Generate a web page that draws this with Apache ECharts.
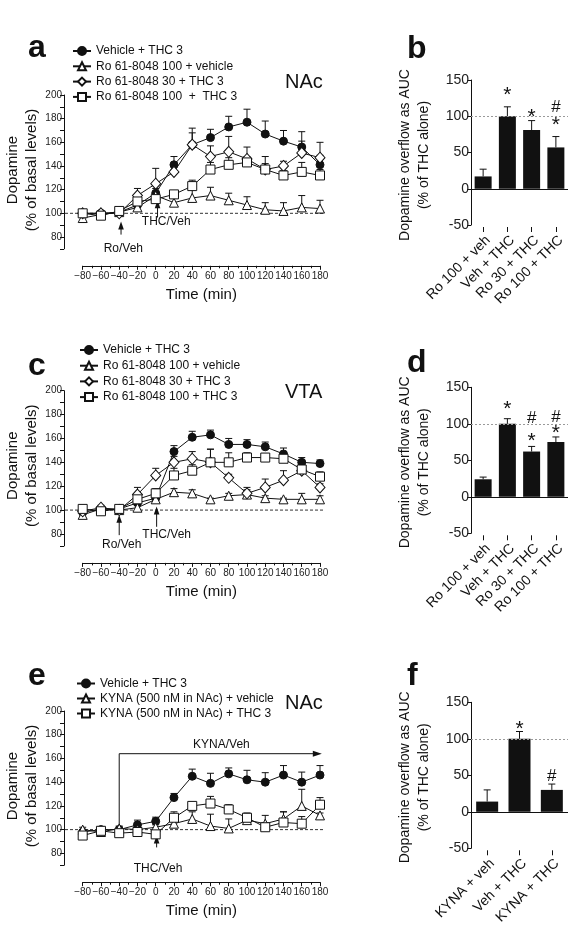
<!DOCTYPE html>
<html><head><meta charset="utf-8">
<script src="https://cdn.jsdelivr.net/npm/echarts@6/dist/echarts.min.js"></script>
<style>html,body{margin:0;padding:0;background:#fff}#c{width:579px;height:938px}</style>
</head><body><div id="c"></div>
<script>
// ---------------- DATA ----------------
const times = [-80,-60,-40,-20,0,20,40,60,80,100,120,140,160,180];

// Panel a (NAc)
const aNames = ['Vehicle + THC 3','Ro 61-8048 100 + vehicle','Ro 61-8048 30 + THC 3','Ro 61-8048 100  +  THC 3'];
const aVehTHC      = [100,100,101,107,117,141,158,164,173,177,167,161,156,141];
const aVehTHCErr   = [2,2,2,3,4,7,10,7,9,11,11,9,13,8];
const aRo100Veh    = [96,99,101,105,115,109,113,115,111,107,103,102,105,104];
const aRo100VehErr = [3,2,2,2,3,6,8,7,6,7,6,7,10,7];
const aRo30THC     = [100,100,100,115,125,135,158,148,152,146,137,140,151,147];
const aRo30THCErr  = [2,2,2,6,13,5,14,9,13,10,11,4,10,13];
const aRo100THC    = [100,98,102,110,112,116,123,137,141,143,137,132,135,132];
const aRo100THCErr = [2,2,2,4,4,3,5,6,6,5,5,4,8,5];

// Panel c (VTA)
const cNames = ['Vehicle + THC 3','Ro 61-8048 100 + vehicle','Ro 61-8048 30 + THC 3','Ro 61-8048 100 + THC 3'];
const cVehTHC      = [98,101,101,106,110,149,161,163,155,155,153,147,140,139];
const cVehTHCErr   = [2,2,2,3,2,5,5,4,5,4,4,5,4,3];
const cRo100Veh    = [96,101,100,102,109,115,114,109,112,113,110,109,109,109];
const cRo100VehErr = [2,2,2,2,2,3,3,1,2,4,2,1,5,3];
const cRo30THC     = [99,102,100,113,129,140,143,140,127,114,119,125,133,119];
const cRo30THCErr  = [2,2,2,6,6,5,6,11,3,5,7,8,4,3];
const cRo100THC    = [101,99,101,109,114,129,133,140,140,144,144,143,134,128];
const cRo100THCErr = [2,2,2,3,4,6,5,11,8,4,3,4,4,4];

// Panel e (NAc, KYNA)
const eNames = ['Vehicle + THC 3','KYNA (500 nM in NAc) + vehicle','KYNA (500 nM in NAc) + THC 3'];
const eVehTHC      = [98,100,100,104,107,127,145,139,147,142,140,146,140,146];
const eVehTHCErr   = [2,2,2,4,3.5,3.5,6,8.5,5,8,8,8,8.5,8];
const eKynaVeh     = [100,98,101,100,102,105,109,103,101,108,105,109,120,112];
const eKynaVehErr  = [2,2,2,2,2,2,6,10,8,5,7,6,14,2];
const eKynaTHC     = [95,99,97,98,96,110,120,122,117,110,102,106,105,121];
const eKynaTHCErr  = [2,2,2,2,2,5,3,6,4,4,4,9,6,6];

// Bar panels
const bCats = ['Ro 100 + veh','Veh + THC','Ro 30 + THC','Ro 100 + THC'];
const bVals = [17,100,81,57];
const bErrs = [10,13,13,15];
const dCats = ['Ro 100 + veh','Veh + THC','Ro 30 + THC','Ro 100 + THC'];
const dVals = [24,100,62,75];
const dErrs = [3,7,7,7];
const fCats = ['KYNA + veh','Veh + THC','KYNA + THC'];
const fVals = [14,100,30];
const fErrs = [16,10,8];

// significance marks: [category index, value level, symbol]
const bMarks = [[1,136,'*'],[2,106,'*'],[3,112,'#'],[3,95,'*']];
const dMarks = [[1,127,'*'],[2,107,'#'],[2,83,'*'],[3,109,'#'],[3,94.5,'*']];
const fMarks = [[1,120,'*'],[2,49,'#']];

// arrows (time, from value, to value) and their captions (time, value)
const aArrows = [[-38,82,93,'Ro/Veh',-35.5,70.5],[2,96.5,111,'THC/Veh',11.5,92.6]];
const cArrows = [[-40,79,96,'Ro/Veh',-37.3,70.7],[1,86,103,'THC/Veh',12,79.5]];
const eArrows = [[1,85,95,'THC/Veh',2.5,67.3]];
const eKynaBracket = [-40,103,164,182,'KYNA/Veh',72,172];

// ---------------- CHART ----------------
const FONT = '"Liberation Sans", Arial, Helvetica, sans-serif';
const INK = '#111';
const chart = echarts.init(document.getElementById('c'), null, {renderer:'canvas'});

const LG = {left:82.7, width:237.3, yOff:18.7, xOff:17};
const lineGrids = [{top:95,height:153.8},{top:390.7,height:155.2},{top:711,height:154.2}];
const barGrids  = [{top:80,height:145},{top:387.3,height:146},{top:702.3,height:146}];
const BG = {left:471, width:97};
const barCats = [bCats,dCats,fCats];

const grids=[], xAxes=[], yAxes=[], series=[];
// order: 0 a, 1 b, 2 c, 3 d, 4 e, 5 f
const layoutOrder = [['line',0],['bar',0],['line',1],['bar',1],['line',2],['bar',2]];
layoutOrder.forEach(([kind,k],gi)=>{
  if(kind==='line'){
    const g = lineGrids[k];
    grids.push({left:LG.left, width:LG.width, top:g.top, height:g.height, outerBoundsMode:'none', containLabel:false});
    xAxes.push({type:'value', gridIndex:gi, min:-80, max:180, interval:20, offset:LG.xOff,
      axisLine:{show:true,onZero:false,lineStyle:{color:INK,width:1}},
      axisTick:{show:true,length:4,lineStyle:{color:INK}},
      minorTick:{show:true,splitNumber:2,length:2.5,lineStyle:{color:INK}},
      splitLine:{show:false}, minorSplitLine:{show:false},
      axisLabel:{fontSize:10,color:'#222',fontFamily:FONT,margin:5,hideOverlap:false,showMinLabel:true,showMaxLabel:true,
        formatter:v=>v<0?'\u2212'+Math.abs(v):String(v)}});
    yAxes.push({type:'value', gridIndex:gi, min:70, max:200, interval:10, offset:LG.yOff,
      axisLine:{show:true,onZero:false,lineStyle:{color:INK,width:1}},
      axisTick:{show:true,length:4,lineStyle:{color:INK}},
      splitLine:{show:false},
      axisLabel:{fontSize:10,color:'#222',fontFamily:FONT,margin:2,showMinLabel:true,showMaxLabel:true,
        formatter:v=>(v%20===0&&v>=80)?String(v):''}});
  } else {
    const g = barGrids[k];
    grids.push({left:BG.left, width:BG.width, top:g.top, height:g.height, outerBoundsMode:'none', containLabel:false});
    xAxes.push({type:'category', gridIndex:gi, data:barCats[k], offset:2,
      axisLine:{show:false,onZero:false},
      axisTick:{show:true,alignWithLabel:true,interval:0,length:5,lineStyle:{color:INK}},
      axisLabel:{show:true,interval:0,formatter:()=>''}});
    yAxes.push({type:'value', gridIndex:gi, min:-50, max:150, interval:50,
      axisLine:{show:true,onZero:false,lineStyle:{color:INK,width:1}},
      axisTick:{show:true,length:4,lineStyle:{color:INK}},
      splitLine:{show:false},
      axisLabel:{fontSize:14,color:'#222',fontFamily:FONT,margin:2}});
  }
});

const SYM = {
  circle:{symbol:'circle',symbolSize:8,itemStyle:{color:INK,borderColor:INK,borderWidth:1}},
  triangle:{symbol:'triangle',symbolSize:9,itemStyle:{color:'#fff',borderColor:INK,borderWidth:1}},
  diamond:{symbol:'diamond',symbolSize:[10,11],itemStyle:{color:'#fff',borderColor:INK,borderWidth:1}},
  square:{symbol:'rect',symbolSize:9,itemStyle:{color:'#fff',borderColor:INK,borderWidth:1}}
};

function errSeries(ai, xs, ys, es, capW, z){
  return {type:'custom', xAxisIndex:ai, yAxisIndex:ai, z:z, silent:true, clip:false,
    data: xs.map((x,i)=>[x, ys[i], es[i]]),
    renderItem:(params, api)=>{
      const x=api.value(0), y=api.value(1), e=api.value(2);
      const p0=api.coord([x,y]), p1=api.coord([x,y+e]);
      return {type:'group', children:[
        {type:'line',shape:{x1:p0[0],y1:p0[1],x2:p1[0],y2:p1[1]},style:{stroke:INK,lineWidth:1}},
        {type:'line',shape:{x1:p1[0]-capW/2,y1:p1[1],x2:p1[0]+capW/2,y2:p1[1]},style:{stroke:INK,lineWidth:1}}
      ]};
    }};
}
function lineSeries(ai, name, vals, errs, sym){
  series.push(errSeries(ai, times, vals, errs, 7, 1));
  series.push(Object.assign({type:'line', name:name, xAxisIndex:ai, yAxisIndex:ai, z:2,
    data: times.map((t,i)=>[t, vals[i]]),
    lineStyle:{color:INK,width:1}, showAllSymbol:true, animation:false}, JSON.parse(JSON.stringify(SYM[sym]))));
}
lineSeries(0, aNames[0], aVehTHC, aVehTHCErr, 'circle');
lineSeries(0, aNames[1], aRo100Veh, aRo100VehErr, 'triangle');
lineSeries(0, aNames[2], aRo30THC, aRo30THCErr, 'diamond');
lineSeries(0, aNames[3], aRo100THC, aRo100THCErr, 'square');
lineSeries(2, cNames[0], cVehTHC, cVehTHCErr, 'circle');
lineSeries(2, cNames[1], cRo100Veh, cRo100VehErr, 'triangle');
lineSeries(2, cNames[2], cRo30THC, cRo30THCErr, 'diamond');
lineSeries(2, cNames[3], cRo100THC, cRo100THCErr, 'square');
lineSeries(4, eNames[0], eVehTHC, eVehTHCErr, 'circle');
lineSeries(4, eNames[1], eKynaVeh, eKynaVehErr, 'triangle');
lineSeries(4, eNames[2], eKynaTHC, eKynaTHCErr, 'square');

function barSeries(ai, vals, errs, bw){
  series.push({type:'bar', xAxisIndex:ai, yAxisIndex:ai, data:vals, barWidth:bw, z:2,
    itemStyle:{color:INK}, silent:true,
    markLine:{silent:true, symbol:'none', label:{show:false}, animation:false,
      data:[{yAxis:0, lineStyle:{type:'solid',color:INK,width:1}},
            {yAxis:100, lineStyle:{type:[2,2],color:'#9a9a9a',width:1}}]}});
  series.push(errSeries(ai, vals.map((v,i)=>i), vals, errs, 7, 3));
}
barSeries(1, bVals, bErrs, 17);
barSeries(3, dVals, dErrs, 17);
barSeries(5, fVals, fErrs, 22);

const legendBase = {orient:'vertical', itemWidth:18, itemHeight:10, padding:0, selectedMode:false,
  textStyle:{fontSize:12, lineHeight:15, color:INK, fontFamily:FONT}};
const legends = [
  Object.assign({left:72, top:43.5, itemGap:0.3, data:aNames}, legendBase),
  Object.assign({left:79, top:342.5, itemGap:0.7, data:cNames}, legendBase),
  Object.assign({left:76, top:676, itemGap:0, data:eNames}, legendBase)
];

chart.setOption({animation:false, backgroundColor:'#fff', grid:grids, xAxis:xAxes, yAxis:yAxes, legend:legends, series:series});

// ---------------- ANNOTATIONS ----------------
const P = (i,x,y)=>chart.convertToPixel({xAxisIndex:i, yAxisIndex:i},[x,y]);
const G = [];
function txt(x,y,s,size,opt){
  G.push(Object.assign({type:'text', x:x, y:y, silent:true, style:Object.assign({text:s, fontSize:size, fontFamily:FONT, fill:INK, align:'center', verticalAlign:'middle'}, (opt&&opt.style)||{})}, opt&&opt.rot?{rotation:opt.rot}:{}));
}
function upArrow(ai, t, v0, v1){
  const a=P(ai,t,v0), b=P(ai,t,v1);
  G.push({type:'line', silent:true, shape:{x1:a[0],y1:a[1],x2:b[0],y2:b[1]+6}, style:{stroke:INK,lineWidth:1}});
  G.push({type:'polygon', silent:true, shape:{points:[[b[0],b[1]],[b[0]-2.8,b[1]+8],[b[0]+2.8,b[1]+8]]}, style:{fill:INK}});
}
// line panels
[[0,aArrows],[2,cArrows],[4,eArrows]].forEach(([ai,arr],k)=>{
  const g = lineGrids[k];
  const yx = LG.left - LG.yOff;
  const p = P(ai, 185, 100);
  G.push({type:'line', silent:true, shape:{x1:yx+1,y1:p[1],x2:p[0],y2:p[1]}, style:{stroke:'#333',lineWidth:1,lineDash:[3,2]}});
  arr.forEach(r=>{ upArrow(ai,r[0],r[1],r[2]); const q=P(ai,r[4],r[5]); txt(q[0],q[1],r[3],12); });
  txt(LG.left+LG.width/2, g.top+g.height+LG.xOff+29, 'Time (min)', 15);
  txt(13, g.top+75, 'Dopamine', 15, {rot:Math.PI/2});
  txt(32, g.top+75, '(% of basal levels)', 15, {rot:Math.PI/2});
});
// KYNA bracket
(function(){
  const r=eKynaBracket;
  const a=P(4,r[0],r[1]), b=P(4,r[0],r[2]), c=P(4,r[3],r[2]);
  G.push({type:'polyline', silent:true, shape:{points:[a,b,[c[0]-7,c[1]]]}, style:{stroke:INK,lineWidth:1,fill:null}});
  G.push({type:'polygon', silent:true, shape:{points:[[c[0],c[1]],[c[0]-9,c[1]-3],[c[0]-9,c[1]+3]]}, style:{fill:INK}});
  const q=P(4,r[5],r[6]); txt(q[0],q[1],r[4],12);
})();
// region labels
txt(285,82,'NAc',20,{style:{align:'left'}});
txt(285,392,'VTA',20,{style:{align:'left'}});
txt(285,703,'NAc',20,{style:{align:'left'}});
// bar panels
[[1,bMarks,0],[3,dMarks,1],[5,fMarks,2]].forEach(([ai,marks,k])=>{
  const g=barGrids[k];
  marks.forEach(m=>{ const q=P(ai,m[0],m[1]); const star=m[2]==='*'; txt(q[0], q[1]+(star?5:0), m[2], star?21:17); });
  barCats[k].forEach((c,i)=>{
    const q=P(ai,i,-50);
    txt(q[0]+5, q[1]+13, c, 14, {rot:Math.PI/4, style:{align:'right'}});
  });
  txt(405, g.top+75, 'Dopamine overflow as AUC', 14, {rot:Math.PI/2});
  txt(424, g.top+75, '(% of THC alone)', 14, {rot:Math.PI/2});
});
// panel letters
[['a',28,32],['b',407,33],['c',28,350],['d',407,347],['e',28,660],['f',407,660]].forEach(l=>{
  txt(l[1],l[2],l[0],32,{style:{align:'left',verticalAlign:'alphabetic',fontWeight:'bold'}});
});

chart.setOption({graphic:{elements:G}});
</script>
</body></html>
